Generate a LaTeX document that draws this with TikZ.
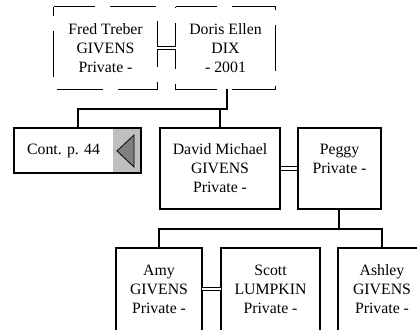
\documentclass[tikz,border=0pt]{standalone}
\usepackage{fontspec}
\setmainfont{Liberation Serif}
\begin{document}
\begin{tikzpicture}[x=1pt,y=-1pt,
  txt/.style={font=\fontsize{15.8}{19}\selectfont, align=center, inner sep=0pt},
  box/.style={txt, draw, line width=1.8pt, rectangle},
  dbox/.style={txt, rectangle},
  frame/.style={line width=1.8pt},
  conn/.style={line width=2pt},
  dbl/.style={double, double distance=2.6pt, line width=0.9pt},
  dsh/.style={line width=1pt, dash pattern=on 46pt off 15.3pt, dash phase=5pt}]
\useasboundingbox (0,0) rectangle (417,329);
\clip (0,0) rectangle (417,329);
% top couple (dashed)
\node[dbox, minimum width=103pt, minimum height=82pt] (fred) at (105.5,48) {Fred Treber\\GIVENS\\Private -};
\node[dbox, minimum width=99pt, minimum height=82pt] (doris) at (225.5,48) {Doris Ellen\\DIX\\- 2001};
\draw[dsh] (fred.north west) -- (fred.north east) -- (fred.south east) -- (fred.south west) -- cycle;
\draw[dsh] (doris.north west) -- (doris.north east) -- (doris.south east) -- (doris.south west) -- cycle;
\draw[dbl] (fred.east) -- (doris.west);
% continuation box
\node[rectangle, fill=black!25, minimum width=28pt, minimum height=45pt, inner sep=0pt] (contpanel) at (127,150.5) {};
\node[box, minimum width=127pt, minimum height=45pt] (cont) at (77.5,150.5) {};
\node[txt] (conttext) at (63.5,150.5) {Cont. p. 44};
\draw[fill=black!50, line width=0.8pt] (117,151) -- (134,135) -- (134,167) -- cycle;
% second generation
\node[box, minimum width=120pt, minimum height=81pt] (david) at (220,168.5) {David Michael\\GIVENS\\Private -};
\node[box, minimum width=83pt, minimum height=81pt] (peggy) at (339.5,168.5) {Peggy\\Private -\\\mbox{}};
\draw[dbl] (david.east) -- (peggy.west);
\coordinate (fam1) at (227,109);
\draw[conn] (doris.south -| fam1) -- (fam1) -| (cont.north);
\draw[conn] (fam1 -| david.north) -- (david.north);
% third generation (boxes run past the lower edge)
\node[dbox, minimum width=86pt, minimum height=82pt] (amy) at (159,289) {Amy\\GIVENS\\Private -};
\node[dbox, minimum width=99pt, minimum height=82pt] (scott) at (270.5,289) {Scott\\LUMPKIN\\Private -};
\node[dbox, minimum width=88pt, minimum height=82pt] (ashley) at (382,289) {Ashley\\GIVENS\\Private -};
\draw[frame] (amy.north west) rectangle ([yshift=-20pt]amy.south east);
\draw[frame] (scott.north west) rectangle ([yshift=-20pt]scott.south east);
\draw[frame] (ashley.north west) rectangle ([yshift=-20pt]ashley.south east);
\draw[dbl] (amy.east) -- (scott.west);
\coordinate (fam2) at (339,229);
\draw[conn] (peggy.south -| fam2) -- (fam2);
\draw[conn] (amy.north) |- (fam2) -| (ashley.north);
\end{tikzpicture}
\end{document}
